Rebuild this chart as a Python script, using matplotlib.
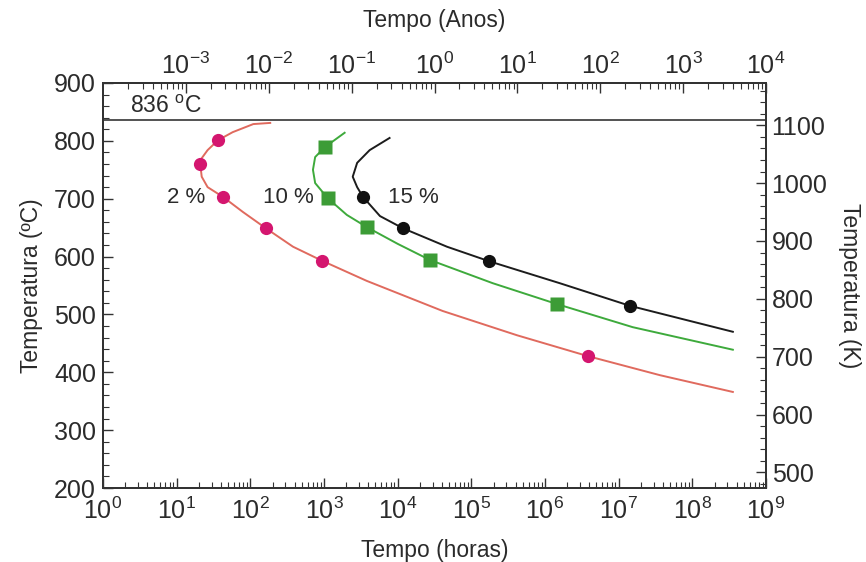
import numpy as np
import matplotlib
matplotlib.use('Agg')
import matplotlib.pyplot as plt
from matplotlib.ticker import LogLocator, MultipleLocator, FixedLocator, NullFormatter

plt.rcParams['font.family'] = ['Liberation Sans', 'DejaVu Sans']

# curves: log10(hours), temperature in degC
red_log = [2.27, 2.04, 1.76, 1.56, 1.42, 1.34, 1.32, 1.34, 1.42, 1.63, 1.90, 2.21, 2.58, 2.97, 3.58,
           4.61, 5.62, 6.58, 7.56, 8.55]
red_T = [831, 829, 815, 801, 784, 770, 760, 738, 720, 703, 677, 649, 617, 593, 558,
         506, 464, 428, 395, 366]
red_pts_log = [1.56, 1.32, 1.63, 2.21, 2.97, 6.58]
red_pts_T = [801, 760, 703, 649, 593, 428]

green_log = [3.28, 3.01, 2.88, 2.85, 2.88, 3.05, 3.31, 3.58, 4.00, 4.44, 5.29, 6.16, 7.19, 8.55]
green_T = [814, 789, 772, 750, 727, 701, 672, 651, 622, 594, 554, 518, 478, 439]
green_pts_log = [3.01, 3.05, 3.58, 4.44, 6.16]
green_pts_T = [789, 701, 651, 594, 518]

black_log = [3.89, 3.62, 3.45, 3.39, 3.45, 3.53, 3.76, 4.07, 4.67, 5.24, 6.20, 7.15, 8.55]
black_T = [805, 784, 762, 738, 720, 703, 670, 649, 617, 592, 554, 515, 470]
black_pts_log = [3.53, 4.07, 5.24, 7.15]
black_pts_T = [703, 649, 592, 515]

labels = ['2 %', '10 %', '15 %']
label_log = [1.13, 2.52, 4.21]
label_T = [702, 702, 702]

top_ticks = [1e-3, 1e-2, 1e-1, 1e0, 1e1, 1e2, 1e3, 1e4]
k_ticks = [500, 600, 700, 800, 900, 1000, 1100]
line_T = 836

txt = '#2b2b2b'

fig = plt.figure(figsize=(8.66, 5.62), dpi=100)
ax = fig.add_axes([103/866, 1-488/562, (766-103)/866, (488-83)/562])

ax.plot(10**np.array(red_log), red_T, color='#e06a5e', lw=1.4)
ax.plot(10**np.array(red_pts_log), red_pts_T, 'o', color='#d4166f', ms=9.5, mec='none')
ax.plot(10**np.array(green_log), green_T, color='#3eaa3c', lw=1.4)
ax.plot(10**np.array(green_pts_log), green_pts_T, 's', color='#3c9c36', ms=10, mec='none')
ax.plot(10**np.array(black_log), black_T, color='#1c1c1c', lw=1.4)
ax.plot(10**np.array(black_pts_log), black_pts_T, 'o', color='#111111', ms=9.5, mec='none')

ax.axhline(line_T, color='#444444', lw=1.3)
ax.text(2.3, line_T + 4, '836 $\\mathregular{^o}$C', fontsize=16.5, color=txt, va='bottom')

for lab, lx, ly in zip(labels, label_log, label_T):
    ax.text(10**lx, ly, lab, fontsize=16, color=txt, ha='center', va='center')

ax.set_xscale('log')
ax.set_xlim(1, 1e9)
ax.set_ylim(200, 900)
ax.xaxis.set_major_locator(LogLocator(base=10, numticks=20))
ax.xaxis.set_minor_locator(LogLocator(base=10, subs=np.arange(2, 10), numticks=20))
ax.xaxis.set_minor_formatter(NullFormatter())
ax.yaxis.set_major_locator(MultipleLocator(100))
ax.yaxis.set_minor_locator(MultipleLocator(20))
ax.set_xlabel('Tempo (horas)', fontsize=16.5, color=txt, labelpad=11)
ax.set_ylabel('Temperatura (ºC)', fontsize=16.5, color=txt, labelpad=8)

# top axis: years
axt = ax.twiny()
axt.set_xscale('log')
axt.set_xlim(1e-4, 1e4)
axt.xaxis.set_major_locator(FixedLocator(top_ticks))
axt.xaxis.set_minor_locator(LogLocator(base=10, subs=np.arange(2, 10), numticks=20))
axt.xaxis.set_minor_formatter(NullFormatter())
axt.set_xlabel('Tempo (Anos)', fontsize=16.5, color=txt, labelpad=18)

# right axis: kelvin
axr = ax.twinx()
axr.set_ylim(200 + 273, 900 + 273)
axr.yaxis.set_major_locator(FixedLocator(k_ticks))
axr.yaxis.set_minor_locator(MultipleLocator(20))
axr.set_ylabel('Temperatura (K)', fontsize=16.5, color=txt, rotation=270, labelpad=24)

for a in (ax, axt, axr):
    a.tick_params(which='both', direction='in', colors='#333333', labelcolor=txt, labelsize=18)
    a.tick_params(which='major', length=7, width=1)
    a.tick_params(which='minor', length=4, width=0.8)
    for s in a.spines.values():
        s.set_color('#333333')
        s.set_linewidth(1.2)
ax.tick_params(axis='x', which='both', top=False, pad=7)
ax.tick_params(axis='y', which='both', right=False, pad=5)
axt.tick_params(axis='x', which='both', bottom=False, pad=3)
axr.tick_params(axis='y', which='both', left=False, pad=4)

fig.savefig('out.png', dpi=100)
